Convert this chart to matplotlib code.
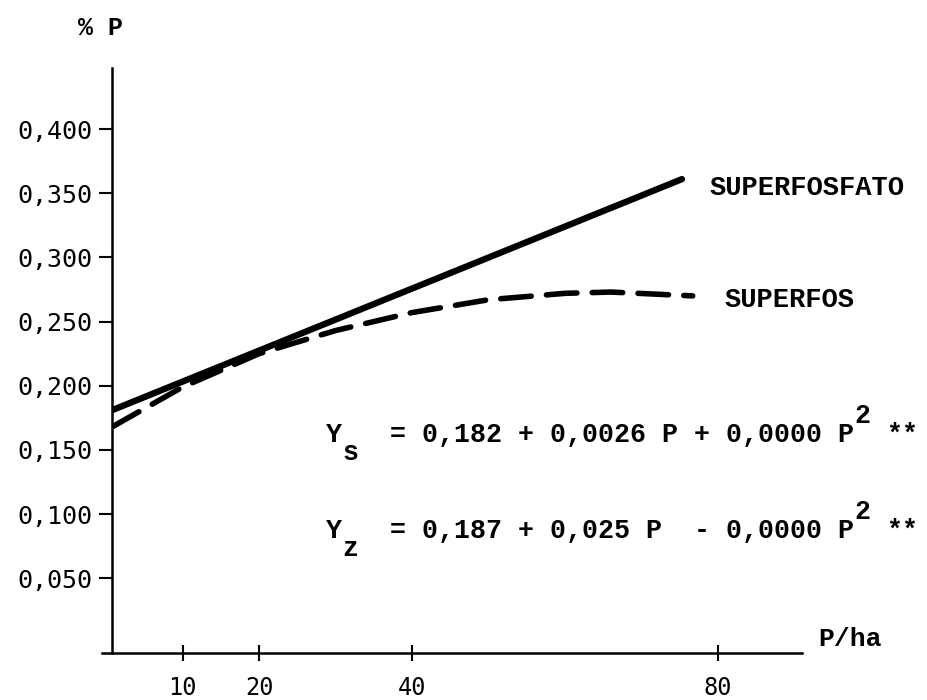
import matplotlib
matplotlib.use("Agg")
import matplotlib.pyplot as plt

# Phosphorus content (% P) versus applied phosphorus (P/ha)
superfosfato_p = [0.8, 75.3]
superfosfato_y = [0.181, 0.361]

superfos_p = [0.8, 10, 20, 30, 40, 50, 60, 66, 76.7]
superfos_y = [0.168, 0.199, 0.225, 0.243, 0.257, 0.267, 0.272, 0.273, 0.270]

x_ticks = [10, 20, 40, 80]
x_tick_labels = ["10", "20", "40", "80"]
y_ticks = [0.05, 0.10, 0.15, 0.20, 0.25, 0.30, 0.35, 0.40]
y_tick_labels = ["0,050", "0,100", "0,150", "0,200", "0,250", "0,300", "0,350", "0,400"]

series_labels = ["SUPERFOSFATO", "SUPERFOS"]
# Each equation: (column, vertical shift in px, text) on a typewriter pitch
eq_s_parts = [(0, 0, "Y"), (1, 18, "s"), (4, 0, "= 0,182 + 0,0026 P + 0,0000 P"),
              (33, -19, "2"), (35, 0, "**")]
eq_z_parts = [(0, 0, "Y"), (1, 18, "z"), (4, 0, "= 0,187 + 0,025 P  - 0,0000 P"),
              (33, -19, "2"), (35, 0, "**")]

plt.rcParams["lines.scale_dashes"] = False

W, H, DPI = 928, 700, 100
fig = plt.figure(figsize=(W / DPI, H / DPI), dpi=DPI)
fig.patch.set_facecolor("white")

left, right, bottom, top = 112, 802, 653, 68
ax = fig.add_axes([left / W, 1 - bottom / H, (right - left) / W, (bottom - top) / H])
ax.set_xlim(0.76, 91.0)
ax.set_ylim(-0.0083, 0.4476)

for side in ("top", "right"):
    ax.spines[side].set_visible(False)
for side in ("left", "bottom"):
    ax.spines[side].set_linewidth(1.8)
    ax.spines[side].set_color("black")
ax.spines["bottom"].set_bounds(-0.6, 91.0)

ax.set_yticks(y_ticks)
ax.set_yticklabels(y_tick_labels, fontdict={"family": "DejaVu Sans Mono", "size": 18})
ax.set_xticks(x_ticks)
ax.set_xticklabels(x_tick_labels, fontdict={"family": "DejaVu Sans Mono", "size": 17})
ax.tick_params(axis="y", direction="out", length=9.4, width=1.5, pad=5, colors="black")
ax.tick_params(axis="x", direction="inout", length=11.5, width=1.5, pad=11, colors="black")

ax.plot(superfosfato_p, superfosfato_y, color="black", lw=4.6,
        solid_capstyle="round")
ax.plot(superfos_p, superfos_y, color="black", lw=4.0,
        dashes=(22, 11), dash_capstyle="round")

mono = "Liberation Mono"


def fx(px):
    return px / W


def fy(py):
    return 1 - py / H


# Axis titles
fig.text(fx(78), fy(28), "% P", family=mono, weight="bold", size=18, va="center", ha="left")
fig.text(fx(818), fy(639), "P/ha", family=mono, weight="bold", size=19, va="center", ha="left")

# Series labels
fig.text(fx(710), fy(188), series_labels[0], family=mono, weight="bold", size=19.5,
         va="center", ha="left")
fig.text(fx(725), fy(300), series_labels[1], family=mono, weight="bold", size=19.5,
         va="center", ha="left")

# Regression equations
eq_size = 19.2
pitch = 0.6 * eq_size * DPI / 72.0


def typed_line(x0, yc, parts):
    for col, dy, txt in parts:
        fig.text(fx(x0 + pitch * col), fy(yc + dy), txt, family=mono, weight="bold",
                 size=eq_size, va="center", ha="left")


typed_line(326, 435, eq_s_parts)
typed_line(326, 531, eq_z_parts)

fig.savefig("out.png", dpi=DPI, facecolor="white")
